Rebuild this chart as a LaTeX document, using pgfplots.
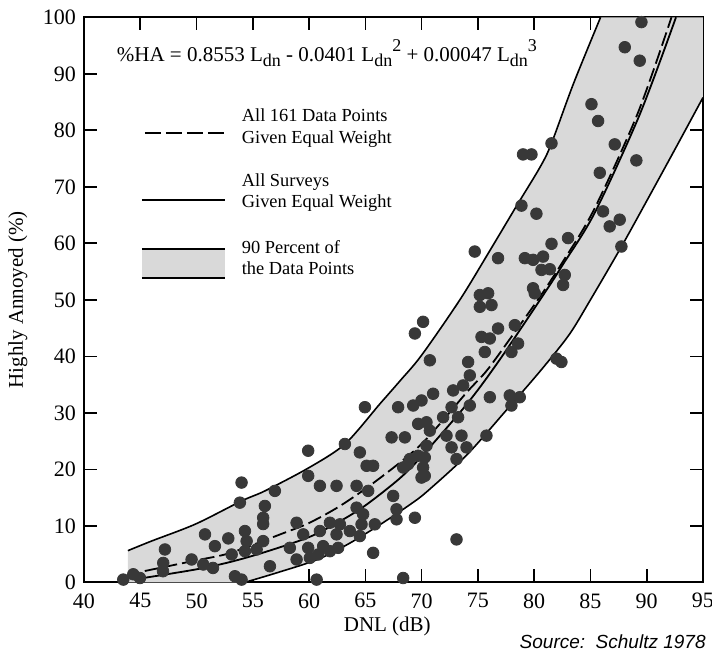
\documentclass[border=0pt]{standalone}
\usepackage{pgfplots}
\pgfplotsset{compat=1.18}
\usepackage{fontspec}
\setmainfont{Liberation Serif}
\newfontfamily\sourcefont{Liberation Sans}
\newcommand\Ldn{L\raisebox{-0.45ex}{\small dn}}
\newcommand\sq[1]{\raisebox{1.1ex}{\small #1}}

\pgfplotstableread{
x y
43.49 0.48
44.38 1.42
44.97 0.76
47.19 5.81
47.04 3.43
47.02 1.96
49.56 4.04
50.75 8.48
50.60 3.15
51.63 6.40
51.46 2.54
52.82 7.77
53.12 4.92
53.41 1.07
54.00 0.48
54.00 17.65
53.85 14.10
54.30 9.07
54.45 7.29
54.30 5.51
55.34 5.81
55.92 7.29
55.92 11.43
55.92 10.31
56.07 13.51
56.96 16.18
56.52 2.84
58.29 6.10
58.89 10.54
58.89 4.04
59.48 8.48
59.92 23.29
59.92 18.84
59.92 6.10
60.07 4.32
60.67 0.48
60.96 17.07
60.96 9.07
61.85 10.54
61.85 5.51
62.44 17.07
62.44 8.48
62.58 6.10
63.18 24.48
63.62 9.07
64.22 17.07
64.22 13.21
64.51 22.99
64.51 8.18
64.80 12.04
64.96 30.99
65.11 20.62
65.69 20.62
65.69 5.21
65.84 10.26
67.33 25.65
67.47 15.29
67.77 12.92
67.91 30.99
68.36 0.76
68.51 25.65
68.36 20.32
67.77 11.15
69.25 31.29
69.69 28.04
65.25 16.18
69.40 11.43
68.80 20.92
69.69 22.40
69.99 18.54
62.74 10.26
64.66 10.26
61.25 6.40
60.81 4.92
75.17 50.84
75.91 51.15
75.17 48.76
76.21 49.07
80.05 51.15
70.13 46.10
69.40 44.04
76.79 44.92
75.32 43.43
76.06 43.15
78.28 45.51
78.57 42.26
77.98 40.76
75.61 40.76
70.73 39.29
74.13 38.99
74.28 36.62
73.69 34.84
72.80 33.96
71.02 33.37
69.99 32.18
72.66 30.99
74.28 31.29
76.06 32.76
77.83 33.07
78.72 32.76
77.98 31.29
81.98 39.59
82.42 38.99
71.91 29.21
73.24 29.21
70.43 28.32
70.73 26.84
72.21 25.96
73.54 25.96
75.76 25.96
70.43 24.18
72.66 23.88
73.99 23.88
68.95 21.81
70.28 22.10
73.10 21.81
70.13 20.32
70.28 18.84
73.10 7.59
79.01 75.73
79.76 75.73
81.54 77.69
78.87 66.67
80.20 65.24
74.72 58.54
76.79 57.37
79.17 57.37
79.90 57.07
80.79 57.65
81.54 59.91
83.01 60.92
80.65 55.29
81.39 55.41
82.72 54.40
82.57 52.62
79.90 52.04
89.53 99.15
88.05 94.70
89.38 92.32
85.09 84.62
85.68 81.65
87.16 77.51
89.08 74.67
85.83 72.48
86.12 65.65
87.60 64.18
86.71 62.99
87.75 59.43
}\surveys

\begin{document}
\begin{tikzpicture}
\useasboundingbox (-42pt,-38.5pt) rectangle (314pt,291.15pt);
\begin{axis}[
  scale only axis, width=309.5pt, height=282.5pt,
  xmin=40, xmax=95, ymin=0, ymax=100,
  xtick={40,45,...,95}, ytick={0,10,...,100},
  tick align=inside, major tick length=6.5pt,
  every tick/.style={black, line width=0.8pt},
  axis line style={line width=1pt},
  tick label style={font=\fontsize{11}{13}\selectfont},
  xticklabel style={yshift=-2pt},
  yticklabel style={xshift=-0.5pt},
  /pgf/number format/assume math mode=true,
  xlabel={DNL (dB)}, ylabel={Highly Annoyed (\%)},
  label style={font=\fontsize{10.5}{12}\selectfont},
  xlabel style={at={(axis description cs:0.49,0)}, anchor=center, yshift=-22pt},
  ylabel style={at={(axis description cs:-0.107,0.5)}, anchor=center},
]
% 90 percent band
\addplot[fill=gray!30, draw=none] coordinates {
 (43.9,0) (43.9,5.6) (46,7.3) (49.9,10.3) (54,14.4) (56.1,16.2) (60,20.3) (63.2,24.5)
 (66.3,31.6) (68.1,35.7) (70,40.2) (73.4,50.0) (76,58.5) (78.4,66.5) (80.5,73.4)
 (81.5,77.5) (83.5,88.3) (85.9,100) (95,100) (95,85.8) (92.5,76.6) (90,67.5) (87.75,59.4)
 (85,50.0) (83.1,43.8) (80.5,37.3) (77.5,30.4) (74,22.5) (70.5,16.1) (69,13.8)
 (66.3,10.2) (63.5,6.8) (60.7,4.0) (57,1.6) (54.3,0)
} --cycle;
% band edges
\addplot[black, line width=0.8pt, smooth] coordinates {
 (43.9,5.6) (46,7.3) (49.9,10.3) (54,14.4) (56.1,16.2) (60,20.3) (63.2,24.5)
 (66.3,31.6) (68.1,35.7) (70,40.2) (73.4,50.0) (76,58.5) (78.4,66.5) (80.5,73.4)
 (81.5,77.5) (83.5,88.3) (85.9,100)
};
\addplot[black, line width=0.8pt, smooth] coordinates {
 (54.3,0) (57,1.6) (60.7,4.0) (63.5,6.8) (66.3,10.2) (69,13.8) (70.5,16.1) (74,22.5)
 (77.5,30.4) (80.5,37.3) (83.1,43.8) (85,50.0) (87.75,59.4) (90,67.5) (92.5,76.6) (95,85.8)
};
% all 161 data points (dashed)
\addplot[black, line width=0.9pt, dash pattern=on 7pt off 2.5pt, smooth] coordinates {
 (45.4,2.0) (50,3.9) (53,5.2) (57.85,8.8) (60,10.5) (62.74,13.5) (66,18.0) (70,24.5)
 (74,33.6) (75.8,37.5) (78,43.5) (80.5,50.5) (82.5,56.6) (85.3,65.9) (89.2,83) (92.2,100)
};
% all surveys (solid)
\addplot[black, line width=0.9pt, smooth] coordinates {
 (45.4,0.8) (50,2.3) (53,3.6) (56,5.3) (60,8.0) (62.74,10.8) (65,13.6) (68,18.3)
 (70,22.3) (74,31.5) (76.94,39.4) (81.09,51.7) (82.57,56.3) (85.38,65.4) (89.38,82.8) (92.6,100)
};
% survey points
\addplot[only marks, mark=*, mark size=2.9pt, mark options={fill=black!78, draw=black!78}] table {\surveys};

% formula
\node[anchor=base west, font=\fontsize{10.5}{12}\selectfont] at (axis cs:42.3,92.1)
  {\%HA = 0.8553 \Ldn{} - 0.0401 \Ldn\sq{2} + 0.00047 \Ldn\sq{3}};
% legend
\draw[black, line width=0.9pt, dash pattern=on 8pt off 2.5pt] (axis cs:45.4,79.5) -- (axis cs:52.5,79.5);
\node[anchor=west, align=left, font=\fontsize{9.2}{11}\selectfont] at (axis cs:53.4,80.35)
  {All 161 Data Points\\Given Equal Weight};
\draw[black, line width=0.9pt] (axis cs:45.15,67.7) -- (axis cs:52.5,67.7);
\node[anchor=west, align=left, font=\fontsize{9.2}{10.5}\selectfont] at (axis cs:53.4,69.0)
  {All Surveys\\Given Equal Weight};
\fill[gray!30] (axis cs:45.15,53.9) rectangle (axis cs:52.5,59.0);
\draw[black, line width=0.9pt] (axis cs:45.15,59.0) -- (axis cs:52.5,59.0);
\draw[black, line width=0.9pt] (axis cs:45.15,53.9) -- (axis cs:52.5,53.9);
\node[anchor=west, align=left, font=\fontsize{9.2}{10.5}\selectfont] at (axis cs:53.4,57.5)
  {90 Percent of\\the Data Points};
\end{axis}
\node[anchor=east, font=\sourcefont\itshape\fontsize{9.5}{11}\selectfont, inner sep=0pt]
  at (311pt,-29.5pt) {Source:\ \ Schultz 1978};
\end{tikzpicture}
\end{document}
